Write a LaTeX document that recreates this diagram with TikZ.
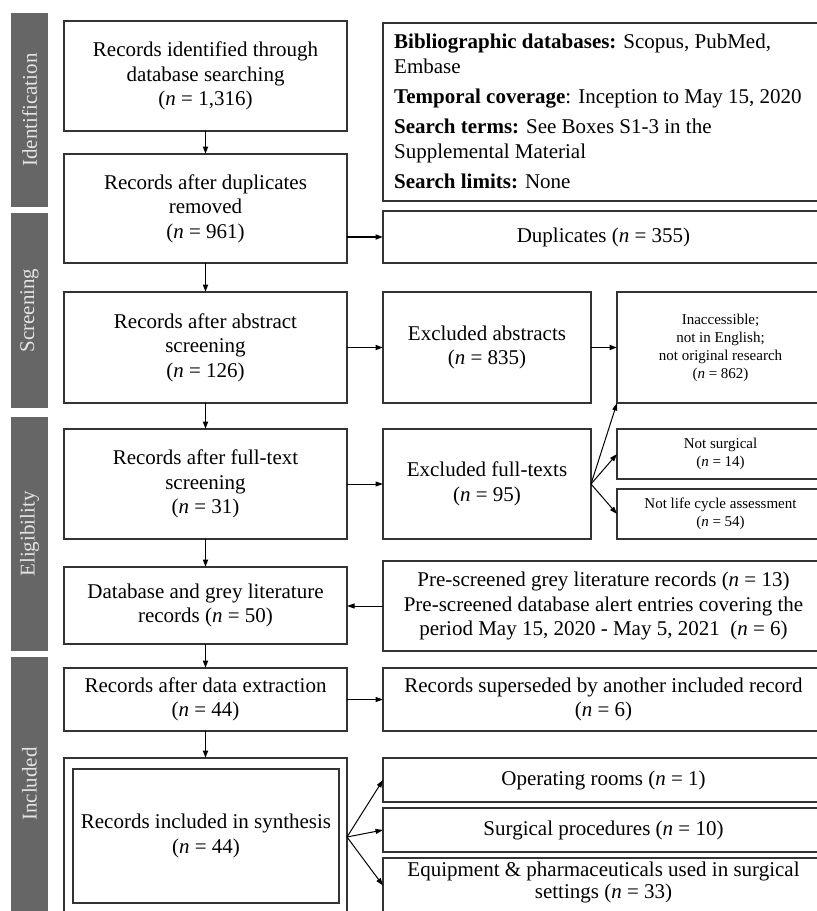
\documentclass[tikz,border=0pt]{standalone}
\usepackage{fontspec}
\setmainfont{Liberation Serif}
\usetikzlibrary{arrows.meta}
\definecolor{barc}{HTML}{666666}
\definecolor{bartx}{HTML}{E4E4E4}
\definecolor{boxc}{HTML}{333333}
\newcommand{\myn}{\textit{n}}
\begin{document}
\begin{tikzpicture}[x=1pt,y=-1pt,
 box/.style={draw=boxc, line width=1.1pt, inner sep=0pt, outer sep=0pt, anchor=north west, align=center, font=\fontsize{21}{24.5}\selectfont},
 small/.style={font=\fontsize{15}{18}\selectfont},
 txt/.style={align=center, inner sep=0pt, font=\fontsize{21}{22}\selectfont},
 bar/.style={fill=barc, inner sep=0pt, outer sep=0pt, anchor=north west, minimum width=37pt},
 bartext/.style={rotate=90, text=bartx, inner sep=0pt, font=\fontsize{21}{24}\selectfont},
 thickarr/.style={draw=black, -{Triangle[length=7.5pt,width=5pt]}, line width=1.7pt},
 thinarr/.style={draw=black, -{Triangle[length=7.5pt,width=5pt]}, line width=1pt},
]
\useasboundingbox (0,0) rectangle (817,911);
\clip (0,0) rectangle (817,911);

% side bars
\node[bar, minimum height=194pt] (idbar) at (11,13) {};
\node[bartext] (idtxt) at (idbar.center) {Identification};
\node[bar, minimum height=195pt] (scbar) at (11,213) {};
\node[bartext] (sctxt) at (scbar.center) {Screening};
\node[bar, minimum height=234pt] (elbar) at (11,417) {};
\node[bartext] (eltxt) at (elbar.center) {Eligibility};
\node[bar, minimum height=254pt] (inbar) at (11,657) {};
\node[bartext] (intxt) at (inbar.center) {Included};

% left column
\node[box, minimum width=283pt, minimum height=110pt] (b1) at (64,21) {Records identified through\\ database searching\\ (\myn{} = 1,316)};
\node[box, minimum width=283pt, minimum height=109pt] (b2) at (64,154) {Records after duplicates\\ removed\\ (\myn{} = 961)};
\node[box, minimum width=283pt, minimum height=111pt] (b3) at (64,292) {Records after abstract\\ screening\\ (\myn{} = 126)};
\node[box, minimum width=283pt, minimum height=110pt] (b4) at (64,429) {Records after full-text\\ screening\\ (\myn{} = 31)};
\node[box, minimum width=283pt, minimum height=77pt] (b5) at (64,567) {Database and grey literature\\ records (\myn{} = 50)};
\node[box, minimum width=283pt, minimum height=63pt] (b6) at (64,668) {Records after data extraction\\ (\myn{} = 44)};
\node[box, minimum width=283pt, minimum height=158pt] (b7) at (64,758) {};
\node[box, minimum width=266pt, minimum height=134pt] (b7in) at (73,769) {Records included in synthesis\\ (\myn{} = 44)};

% right column
\node[box, minimum width=441pt, minimum height=178pt] (info) at (383,23) {};
\node[anchor=north west, inner sep=0pt, align=left, font=\fontsize{21}{25}\selectfont] (infotxt) at (394,34) {\textbf{Bibliographic databases:} Scopus, PubMed,\\ Embase\\[5pt] \textbf{Temporal coverage}: Inception to May 15, 2020\\[5pt] \textbf{Search terms:} See Boxes S1-3 in the\\ Supplemental Material\\[5pt] \textbf{Search limits:} None};
\node[box, minimum width=441pt, minimum height=52pt] (dup) at (383,211) {Duplicates (\myn{} = 355)};
\node[box, minimum width=208pt, minimum height=111pt] (exab) at (383,292) {Excluded abstracts\\ (\myn{} = 835)};
\node[box, small, minimum width=207pt, minimum height=111pt] (inacc) at (617,292) {Inaccessible;\\ not in English;\\ not original research\\ (\myn{} = 862)};
\node[box, minimum width=208pt, minimum height=110pt] (exft) at (383,429) {Excluded full-texts\\ (\myn{} = 95)};
\node[box, small, minimum width=207pt, minimum height=50pt] (nsurg) at (617,429) {Not surgical\\ (\myn{} = 14)};
\node[box, small, minimum width=207pt, minimum height=50pt] (nlca) at (617,489) {Not life cycle assessment\\ (\myn{} = 54)};
\node[box, minimum width=441pt, minimum height=90pt] (pre) at (383,561) {Pre-screened grey literature records (\myn{} = 13)\\ Pre-screened database alert entries covering the\\ period May 15, 2020 - May 5, 2021\ \ (\myn{} = 6)};
\node[box, minimum width=441pt, minimum height=63pt] (sup) at (383,668) {Records superseded by another included record\\ (\myn{} = 6)};
\node[box, minimum width=441pt, minimum height=44pt] (op) at (383,758) {Operating rooms (\myn{} = 1)};
\node[box, minimum width=441pt, minimum height=44pt] (sp) at (383,808) {Surgical procedures (\myn{} = 10)};
\node[box, minimum width=441pt, minimum height=55pt] (eq) at (383,858) {};
\node[txt] (eqtxt) at (603.5,882) {Equipment \& pharmaceuticals used in surgical\\ settings (\myn{} = 33)};

% vertical flow
\draw[thickarr] (b1.south) -- (b2.north);
\draw[thickarr] (b2.south) -- (b3.north);
\draw[thickarr] (b3.south) -- (b4.north);
\draw[thickarr] (b4.south) -- (b5.north);
\draw[thickarr] (b5.south) -- (b6.north);
\draw[thickarr] (b6.south) -- (b7.north);

% horizontal
\draw[thickarr] (dup.west -| b2.east) -- (dup.west);
\draw[thickarr] (b3.east) -- (exab.west);
\draw[thickarr] (exab.east) -- (inacc.west);
\draw[thinarr] (b4.east) -- (exft.west);
\draw[thinarr] (exft.east) -- (inacc.south west);
\draw[thinarr] (exft.east) -- (nsurg.west);
\draw[thinarr] (exft.east) -- (nlca.west);
\draw[thinarr] (pre.west) -- (pre.west -| b5.east);
\draw[thinarr] (b6.east) -- (sup.west);
\draw[thinarr] (b7.east) -- (op.west);
\draw[thinarr] (b7.east) -- (sp.west);
\draw[thinarr] (b7.east) -- (eq.west);
\end{tikzpicture}
\end{document}
